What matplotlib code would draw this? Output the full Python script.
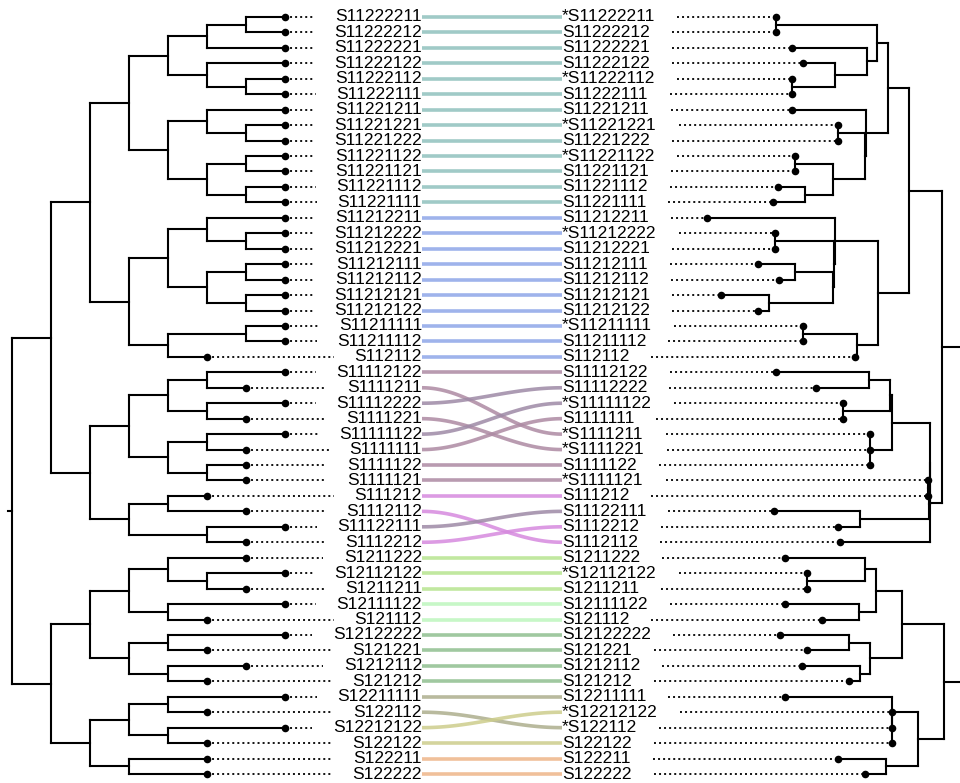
import numpy as np
import matplotlib.pyplot as plt
from matplotlib.collections import LineCollection

plt.rcParams['font.family'] = ['Liberation Sans', 'DejaVu Sans']

# left tree (cladogram): (node depth, child, child, ...); tips sit at depth len(name) - 2
left_tree = (0,
    (1,
        (2,
            (3,
                (4, (5, (6, 'S11222211', 'S11222212'), 'S11222221'),
                    (5, 'S11222122', (6, 'S11222112', 'S11222111'))),
                (4, (5, 'S11221211', (6, 'S11221221', 'S11221222')),
                    (5, (6, 'S11221122', 'S11221121'), (6, 'S11221112', 'S11221111')))),
            (3,
                (4, (5, 'S11212211', (6, 'S11212222', 'S11212221')),
                    (5, (6, 'S11212111', 'S11212112'), (6, 'S11212121', 'S11212122'))),
                (4, (6, 'S11211111', 'S11211112'), 'S112112'))),
        (2,
            (3, (4, (5, 'S11112122', 'S1111211'), (5, 'S11112222', 'S1111221')),
                (4, (5, 'S11111122', 'S1111111'), (5, 'S1111122', 'S1111121'))),
            (3, (4, 'S111212', 'S1112112'), (5, 'S11122111', 'S1112212')))),
    (1,
        (2,
            (3, (4, 'S1211222', (5, 'S12112122', 'S1211211')), (4, 'S12111122', 'S121112')),
            (3, (4, 'S12122222', 'S121221'), (4, 'S1212112', 'S121212'))),
        (2,
            (3, (4, 'S12211111', 'S122112'), (4, 'S12212122', 'S122122')),
            (3, 'S122211', 'S122222'))))

# right tree (phylogram), depth measured from the root
right_labels = ['*S11222211', 'S11222212', 'S11222221', 'S11222122', '*S11222112', 'S11222111',
                'S11221211', '*S11221221', 'S11221222', '*S11221122', 'S11221121', 'S11221112',
                'S11221111', 'S11212211', '*S11212222', 'S11212221', 'S11212111', 'S11212112',
                'S11212121', 'S11212122', '*S11211111', 'S11211112', 'S112112', 'S11112122',
                'S11112222', '*S11111122', 'S1111111', '*S1111211', '*S1111221', 'S1111122',
                '*S1111121', 'S111212', 'S11122111', 'S1112212', 'S1112112', 'S1211222',
                '*S12112122', 'S1211211', 'S12111122', 'S121112', 'S12122222', 'S121221',
                'S1212112', 'S121212', 'S12211111', '*S12212122', '*S122112', 'S122122',
                'S122211', 'S122222']
right_tip_depth = [5.23, 5.23, 4.82, 4.54, 4.82, 4.82,
                   4.82, 3.64, 3.64, 4.74, 4.74, 5.18,
                   5.31, 7.00, 5.26, 5.26, 5.69, 5.15,
                   6.64, 5.69, 4.54, 4.54, 3.21, 5.23,
                   4.21, 3.51, 3.51, 2.82, 2.82, 2.82,
                   1.33, 1.33, 5.28, 3.64, 3.59, 5.00,
                   4.44, 4.44, 5.00, 4.05, 5.13, 4.44,
                   4.56, 3.36, 5.00, 2.26, 2.26, 2.26,
                   3.64, 2.95]

right_tree = (0.0,
    (0.97,
        (1.82,
            (2.36,
                (2.64,
                    (5.23, '*S11222211', 'S11222212'),
                    (2.90, 'S11222221',
                        (3.72, 'S11222122', (4.82, '*S11222112', 'S11222111')))),
                (2.92, 'S11221211',
                    (2.94, (3.64, '*S11221221', 'S11221222'),
                        (3.77, (4.74, '*S11221122', 'S11221121'),
                            (4.49, 'S11221112', 'S11221111'))))),
            (2.62,
                (3.72, 'S11212211',
                    (3.74, (5.26, '*S11212222', 'S11212221'),
                        (3.77, (4.74, 'S11212111', 'S11212112'),
                            (5.41, 'S11212121', 'S11212122')))),
                (3.15, (4.54, '*S11211111', 'S11211112'), 'S112112'))),
        (1.28,
            (1.29,
                (2.26,
                    (2.31, (2.85, 'S11112122', 'S11112222'),
                        (3.51, '*S11111122', 'S1111111')),
                    (2.82, '*S1111211', '*S1111221', 'S1111122')),
                (1.31, (1.33, '*S1111121', 'S111212'),
                    (3.08, 'S11122111', 'S1112212'))),
            'S1112112')),
    (0.92,
        (2.00,
            (2.67, (2.95, 'S1211222', (4.44, '*S12112122', 'S1211211')),
                (3.10, 'S12111122', 'S121112')),
            (2.82, (3.36, 'S12122222', 'S121221'), (3.08, 'S1212112', 'S121212'))),
        (1.59,
            (2.25, 'S12211111', (2.26, '*S12212122', '*S122112', 'S122122')),
            (2.41, 'S122211', 'S122222'))))

# link colour group for every left tip, top to bottom
link_group = ['teal', 'teal', 'teal', 'teal', 'teal', 'teal', 'teal', 'teal', 'teal',
              'teal', 'teal', 'teal', 'teal',
              'blue', 'blue', 'blue', 'blue', 'blue', 'blue', 'blue', 'blue', 'blue', 'blue',
              'mauve', 'mauve', 'plum', 'mauve', 'plum', 'mauve', 'mauve', 'mauve',
              'pink', 'pink', 'plum', 'pink',
              'lime', 'lime', 'lime', 'mint', 'mint',
              'green', 'green', 'green', 'green',
              'olive', 'olive', 'khaki', 'khaki', 'peach', 'peach']
group_colors = {'teal': '#8fc1bd', 'blue': '#8ea6e8', 'mauve': '#ad8aa3', 'plum': '#9e8aa6',
                'pink': '#d68ade', 'lime': '#b6e48f', 'mint': '#bdf6bd', 'green': '#8fbf8f',
                'olive': '#adae8d', 'khaki': '#cdcd8c', 'peach': '#eeb589'}


def tips(node):
    if isinstance(node, str):
        return [node]
    out = []
    for c in node[1:]:
        out += tips(c)
    return out


def draw_tree(node, tip_depth, xmap, row, segs, dots):
    if isinstance(node, str):
        x, y = xmap(tip_depth[node]), row[node]
        dots.append((x, y))
        return x, y
    x = xmap(node[0])
    kids = [draw_tree(c, tip_depth, xmap, row, segs, dots) for c in node[1:]]
    for kx, ky in kids:
        segs.append([(x, ky), (kx, ky)])
    segs.append([(x, kids[0][1]), (x, kids[-1][1])])
    return x, (kids[0][1] + kids[-1][1]) / 2


left_order = tips(left_tree)
right_order = tips(right_tree)
left_row = {n: i for i, n in enumerate(left_order)}
right_row = {n: i for i, n in enumerate(right_order)}
left_depth = {n: len(n) - 2 for n in left_order}
right_depth = dict(zip(right_labels, right_tip_depth))

fig = plt.figure(figsize=(9.6, 7.83), dpi=100)
ax = fig.add_axes([0, 0, 1, 1])
ax.set_xlim(0, 960)
ax.set_ylim(49 + 9 / 15.45, -17 / 15.45)
ax.axis('off')

lx = lambda d: 12 + 39 * d
rx = lambda d: 980 - 39 * d

lsegs, ldots = [], []
root_x, root_y = draw_tree(left_tree, left_depth, lx, left_row, lsegs, ldots)
lsegs.append([(root_x - 4, root_y), (root_x, root_y)])
rsegs, rdots = [], []
draw_tree(right_tree, right_depth, rx, right_row, rsegs, rdots)

for segs in (lsegs, rsegs):
    ax.add_collection(LineCollection(segs, colors='black', linewidths=1.5,
                                     capstyle='projecting', zorder=3))

left_text = {}
for n in left_order:
    left_text[n] = ax.text(422, left_row[n], n, ha='right', va='center', fontsize=12.5)
right_text = {}
for n in right_order:
    right_text[n] = ax.text(562, right_row[n], n, ha='left', va='center', fontsize=12.5)

# links between matching tips
for n in left_order:
    y0 = left_row[n]
    y1 = right_row[n] if n in right_row else right_row['*' + n]
    xs = np.linspace(422, 562, 80)
    t = (xs - 422) / 140
    ys = y0 + (y1 - y0) * (1 - np.cos(np.pi * t)) / 2
    ax.plot(xs, ys, color=group_colors[link_group[y0]], lw=2.6, alpha=0.85,
            solid_capstyle='butt', zorder=1)

fig.canvas.draw()
inv = ax.transData.inverted()
dot_style = dict(color='black', lw=1.3, ls=(0, (1.1, 1.7)), zorder=2)
for n in left_order:
    bb = left_text[n].get_window_extent()
    x_end = inv.transform((bb.x0 - 21, 0))[0]
    ax.plot([lx(left_depth[n]), x_end], [left_row[n]] * 2, **dot_style)
for n in right_order:
    bb = right_text[n].get_window_extent()
    x_start = inv.transform((bb.x1 + 22, 0))[0]
    ax.plot([x_start, rx(right_depth[n])], [right_row[n]] * 2, **dot_style)

pts = np.array(ldots + rdots)
ax.scatter(pts[:, 0], pts[:, 1], s=30, color='black', zorder=4, linewidths=0)

fig.savefig('out.png', dpi=100)
